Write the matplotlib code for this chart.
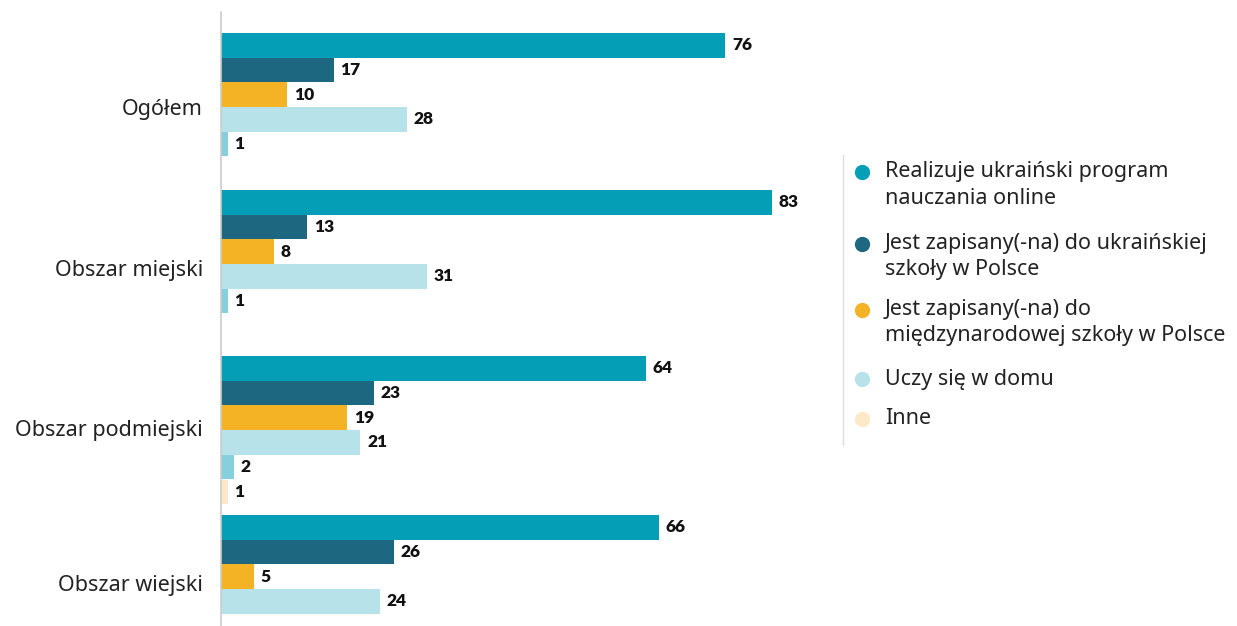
import matplotlib.pyplot as plt

plt.rcParams['font.family'] = ['Noto Sans', 'DejaVu Sans']

categories = ['Ogółem', 'Obszar miejski', 'Obszar podmiejski', 'Obszar wiejski']
series_names = [
    'Realizuje ukraiński program\nnauczania online',
    'Jest zapisany(-na) do ukraińskiej\nszkoły w Polsce',
    'Jest zapisany(-na) do\nmiędzynarodowej szkoły w Polsce',
    'Uczy się w domu',
    None,
    'Inne',
]
online = [76, 83, 64, 66]
ukr_school = [17, 13, 23, 26]
intl_school = [10, 8, 19, 5]
home = [28, 31, 21, 24]
unnamed = [1, 1, 2, None]
other = [None, None, 1, None]

series = [online, ukr_school, intl_school, home, unnamed, other]
colors = ['#049fb6', '#1d6880', '#f4b225', '#b8e2ea', '#86d0de', '#fde8c8']

# layout (pixel rows from top of the figure)
group_top = [33, 190, 356, 515]
label_y = [107, 268, 428, 583]
slot = 24.7

fig = plt.figure(figsize=(12.37, 6.26), dpi=100)
ax = fig.add_axes([221 / 1237, 0, 600 / 1237, 614 / 626])
ax.set_xlim(0, 90.4)
ax.set_ylim(626, 12)

for c in range(len(categories)):
    k = 0
    for s, vals in enumerate(series):
        v = vals[c]
        if v is None:
            continue
        y = group_top[c] + (k + 0.5) * slot
        ax.barh(y, v, height=slot, color=colors[s], linewidth=0)
        ax.text(v + 1.0, y, str(v), va='center', ha='left', family='Lato',
                fontsize=12.5, fontweight='heavy', color='#111111')
        k += 1

ax.set_yticks(label_y)
ax.set_yticklabels(categories, fontsize=15.5, color='#222222')
ax.tick_params(axis='y', length=0, pad=13)
ax.set_xticks([])
for sp in ['top', 'right', 'bottom']:
    ax.spines[sp].set_visible(False)
ax.spines['left'].set_color('#cccccc')
ax.spines['left'].set_linewidth(1.2)

# legend drawn by hand so the dot sits on the first line
W, H = 1237, 626
fig.add_artist(plt.Line2D([843 / W, 843 / W], [1 - 155 / H, 1 - 445 / H],
                          color='#dddddd', linewidth=1))
leg_y = [172, 244, 310, 379, None, 419]
for s, name in enumerate(series_names):
    if name is None:
        continue
    y0 = leg_y[s]
    fig.add_artist(plt.Line2D([862 / W], [1 - y0 / H], marker='o', markersize=10,
                              color=colors[s], linestyle='none'))
    for j, line in enumerate(name.split('\n')):
        fig.text(885 / W, 1 - (y0 + j * 26) / H, line, va='center', ha='left',
                 fontsize=15.5, color='#222222')

fig.savefig('out.png', dpi=100)
